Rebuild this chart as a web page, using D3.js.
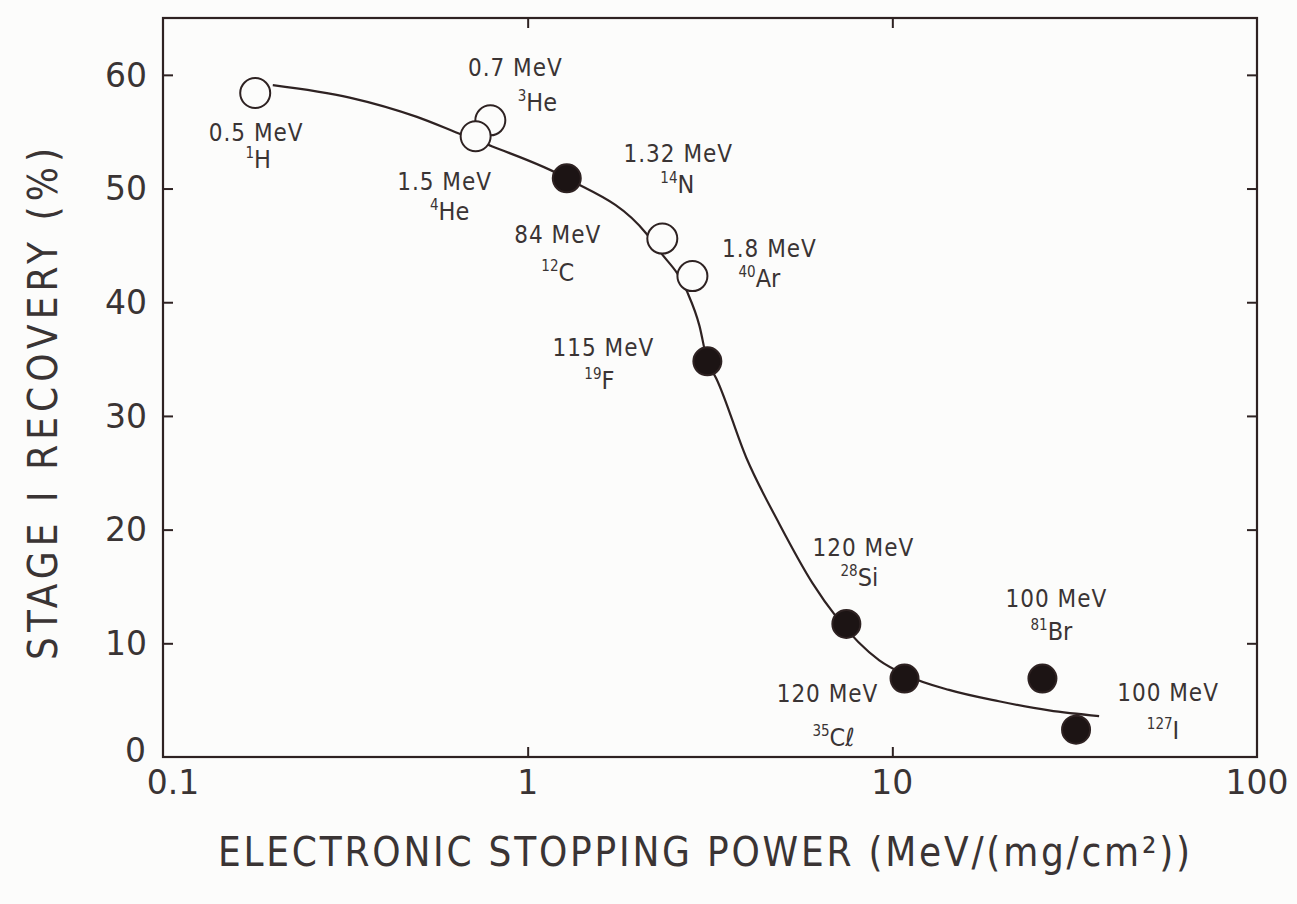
<!DOCTYPE html>
<html><head><meta charset="utf-8">
<script src="https://cdn.jsdelivr.net/npm/d3@7"></script>
<style>
html,body{margin:0;padding:0;background:#fcfcfb;}
svg{display:block;}
</style></head>
<body>
<svg id="chart" width="1297" height="904"></svg>
<script>
// ---- data ----
const isotopes   = ["1H","3He","4He","12C","14N","40Ar","19F","28Si","35Cl","81Br","127I"];
const massNums   = ["1","3","4","12","14","40","19","28","35","81","127"];
const elements   = ["H","He","He","C","N","Ar","F","Si","Cℓ","Br","I"];
const energies   = ["0.5 MeV","0.7 MeV","1.5 MeV","84 MeV","1.32 MeV","1.8 MeV","115 MeV","120 MeV","120 MeV","100 MeV","100 MeV"];
const stopping   = [0.179, 0.79, 0.72, 1.28, 2.34, 2.83, 3.11, 7.48, 10.8, 25.8, 31.9];
const recovery   = [58.4, 56.0, 54.6, 50.9, 45.6, 42.3, 34.8, 11.7, 6.9, 6.9, 2.4];
const filled     = [false, false, false, true, false, false, true, true, true, true, true];
const curveX     = [0.20, 0.325, 0.497, 0.664, 0.80, 1.28, 2.12, 2.30, 2.73, 2.96, 3.11, 3.29, 3.98, 4.90, 6.04, 7.03, 9.21, 10.9, 14.3, 19.6, 26.9, 36.9];
const curveY     = [59.1, 58.0, 56.3, 54.7, 53.7, 50.9, 46.0, 44.5, 41.0, 37.9, 34.8, 33.3, 26.3, 20.5, 15.3, 12.3, 8.5, 7.2, 5.9, 4.9, 4.1, 3.6];
const xTicks     = [0.1, 1, 10, 100];
const xTickLabels= ["0.1","1","10","100"];
const yTicks     = [0, 10, 20, 30, 40, 50, 60];

// ---- layout (label offsets in px from each point) ----
const lab1 = [[1,39],[25,-53],[-31,45],[-9,56],[16,-85],[77,-28],[-104,-14],[17,-77],[-77,15],[14,-80],[92,-37]];
const lab2 = [[3,69],[47,-16],[-26,78],[-9,96],[15,-52],[67,5],[-108,21],[13,-44],[-71,61],[9,-45],[87,3]];

const ink = "#2e2222";
const txt = "#3a3434";
const svg = d3.select("#chart");
const L = 163, R = 1257, T = 18, B = 757;

const x = d3.scaleLog().domain([0.1, 100]).range([L, R]);
const y = d3.scaleLinear().domain([0, 65]).range([B, T]);

// frame
svg.append("rect").attr("x", L).attr("y", T).attr("width", R - L).attr("height", B - T)
  .attr("fill", "none").attr("stroke", ink).attr("stroke-width", 2.2);

// ticks (inward) via axes
const tickLen = 10;
svg.append("g").attr("transform", `translate(0,${B})`)
  .call(d3.axisTop(x).tickValues([1, 10]).tickSize(tickLen).tickFormat(""))
  .call(g => g.select(".domain").remove());
svg.append("g").attr("transform", `translate(0,${T})`)
  .call(d3.axisBottom(x).tickValues([1, 10]).tickSize(tickLen).tickFormat(""))
  .call(g => g.select(".domain").remove());
svg.append("g").attr("transform", `translate(${L},0)`)
  .call(d3.axisRight(y).tickValues(yTicks.slice(1)).tickSize(tickLen).tickFormat(""))
  .call(g => g.select(".domain").remove());
svg.append("g").attr("transform", `translate(${R},0)`)
  .call(d3.axisLeft(y).tickValues(yTicks.slice(1)).tickSize(tickLen).tickFormat(""))
  .call(g => g.select(".domain").remove());
svg.selectAll(".tick line").attr("stroke", ink).attr("stroke-width", 2);

// tick labels
svg.append("g").selectAll("text").data(yTicks).join("text")
  .attr("x", d => d === 0 ? 146 : 147)
  .attr("y", d => y(d) - (d === 0 ? 7 : 0))
  .attr("dy", "0.36em")
  .attr("text-anchor", "end")
  .attr("font-family", "DejaVu Sans, sans-serif").attr("font-size", 33)
  .attr("fill", txt)
  .text(d => d);
svg.append("g").selectAll("text").data(xTicks).join("text")
  .attr("x", (d, i) => x(d) + (i === 0 ? 10 : 0))
  .attr("y", 794)
  .attr("text-anchor", "middle")
  .attr("font-family", "DejaVu Sans, sans-serif").attr("font-size", 33)
  .attr("fill", txt)
  .text((d, i) => xTickLabels[i]);

// axis titles
svg.append("text")
  .attr("x", 218).attr("y", 866)
  .attr("textLength", 972).attr("lengthAdjust", "spacing")
  .attr("font-family", "DejaVu Sans Condensed, DejaVu Sans, sans-serif").attr("font-size", 40)
  .attr("fill", txt)
  .text("ELECTRONIC  STOPPING  POWER  (MeV/(mg/cm²))");
svg.append("text")
  .attr("transform", "translate(57,660) rotate(-90)")
  .attr("textLength", 512).attr("lengthAdjust", "spacing")
  .attr("font-family", "DejaVu Sans Condensed, DejaVu Sans, sans-serif").attr("font-size", 40)
  .attr("fill", txt)
  .text("STAGE I RECOVERY  (%)");

// curve
const curvePts = curveX.map((v, i) => [v, curveY[i]]);
svg.append("path").datum(curvePts)
  .attr("d", d3.line().x(d => x(d[0])).y(d => y(d[1])).curve(d3.curveMonotoneX))
  .attr("fill", "none").attr("stroke", ink).attr("stroke-width", 2.2);

// points
const pts = isotopes.map((id, i) => ({id, i, sx: stopping[i], r: recovery[i], f: filled[i]}));
svg.append("g").selectAll("circle").data(pts).join("circle")
  .attr("cx", d => x(d.sx)).attr("cy", d => y(d.r)).attr("r", d => d.f ? 14 : 15)
  .attr("fill", d => d.f ? "#1c1414" : "#fcfcfb")
  .attr("stroke", ink).attr("stroke-width", 2);

// labels
const lg = svg.append("g").attr("font-family", "DejaVu Sans Condensed, DejaVu Sans, sans-serif").attr("fill", txt);
pts.forEach(d => {
  const px = x(d.sx), py = y(d.r);
  lg.append("text")
    .attr("x", px + lab1[d.i][0]).attr("y", py + lab1[d.i][1]).attr("dy", "0.36em")
    .attr("text-anchor", "middle").attr("font-size", 24).attr("letter-spacing", 1)
    .text(energies[d.i]);
  const t = lg.append("text")
    .attr("x", px + lab2[d.i][0]).attr("y", py + lab2[d.i][1]).attr("dy", "0.4em")
    .attr("text-anchor", "middle").attr("font-size", 25);
  t.append("tspan").attr("font-size", 15).attr("dy", "-0.25em").text(massNums[d.i]);
  t.append("tspan").attr("dy", "0.4em").text(elements[d.i]);
});
</script>
</body></html>
